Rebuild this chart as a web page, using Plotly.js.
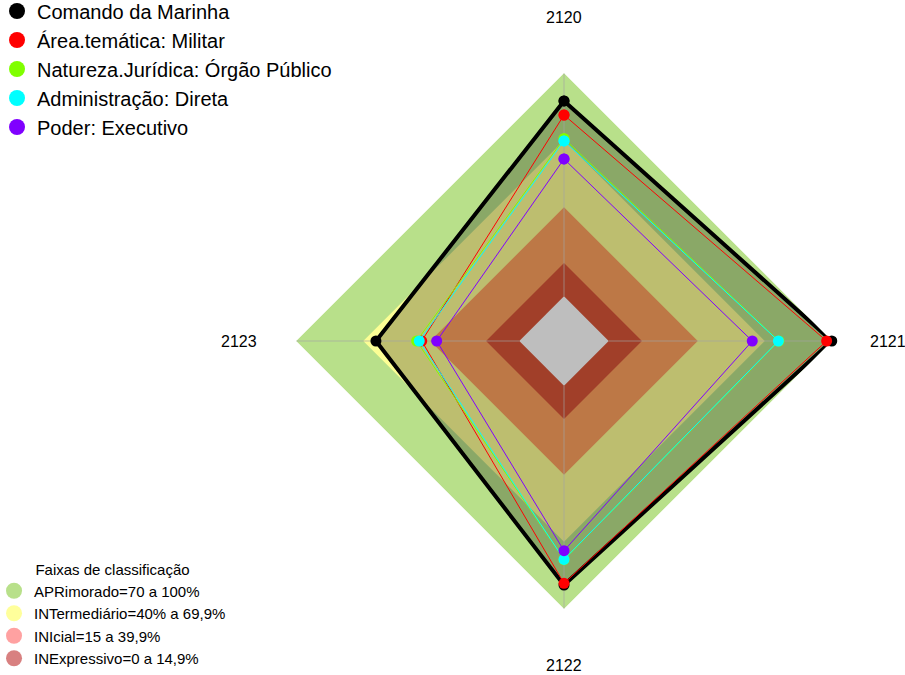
<!DOCTYPE html>
<html>
<head>
<meta charset="utf-8">
<script src="https://cdn.plot.ly/plotly-3.0.1.min.js"></script>
<style>html,body{margin:0;padding:0;background:#fff;}#chart{width:905px;height:675px;}</style>
</head>
<body>
<div id="chart"></div>
<script>
// ---------- data ----------
const categories = ['2120', '2121', '2122', '2123'];

const seriesNames = [
  'Comando da Marinha',
  'Área.temática: Militar',
  'Natureza.Jurídica: Órgão Público',
  'Administração: Direta',
  'Poder: Executivo'
];
const comandoMarinha   = [87.5, 99.9, 89.3, 64.2];
const areaMilitar      = [81.2, 97.6, 88.5, 43.7];
const naturezaOrgao    = [70.6, 76.2, 77.9, 46.0];
const administracaoDir = [69.6, 76.0, 77.8, 44.8];
const poderExecutivo   = [61.5, 64.3, 73.9, 37.0];

const bandNames  = ['APRimorado=70 a 100%', 'INTermediário=40% a 69,9%', 'INIcial=15 a 39,9%', 'INExpressivo=0 a 14,9%'];
const bandValues = [100, 69.9, 39.9, 14.9];
const scaleMin = 0, scaleMax = 100;
const legendTitle = 'Faixas de classificação';

// ---------- styles ----------
const seriesColors = ['#000000', '#ff0000', '#80ff00', '#00ffff', '#8000ff'];
const seriesWidths = [4, 1, 1, 1, 1];
const bandColors = ['rgba(126,199,42,0.55)', 'rgba(255,255,150,0.95)', 'rgba(255,0,0,0.37)', 'rgba(184,23,23,0.55)'];
const FONT = 'Liberation Sans, Arial, sans-serif';
const W = 905, H = 675;
const CX = 564, CY = 341, R = 268;
// category label anchor positions (pixels) : [x, y, xanchor]
const labelPos = [[CX, 18, 'center'], [868, CY, 'left'], [CX, 665, 'center'], [259, CY, 'right']];

function closed(arr) { return arr.concat([arr[0]]); }
const thetaClosed = closed(categories);

const traces = [];

// classification bands
bandValues.forEach((v, i) => {
  traces.push({
    type: 'scatterpolar', mode: 'none', fill: 'toself',
    r: closed(categories.map(() => v)), theta: thetaClosed,
    fillcolor: bandColors[i], showlegend: false, hoverinfo: 'skip'
  });
});

const allSeries = [comandoMarinha, areaMilitar, naturezaOrgao, administracaoDir, poderExecutivo];

// translucent fill of the first series
traces.push({
  type: 'scatterpolar', mode: 'none', fill: 'toself',
  r: closed(comandoMarinha), theta: thetaClosed,
  fillcolor: 'rgba(0,0,0,0.25)', showlegend: false, hoverinfo: 'skip'
});

// centre (below scale minimum)
traces.push({
  type: 'scatterpolar', mode: 'none', fill: 'toself',
  r: closed(categories.map(() => scaleMin)), theta: thetaClosed,
  fillcolor: '#bebebe', showlegend: false, hoverinfo: 'skip'
});

// spokes
const spokeR = [], spokeT = [];
categories.forEach(c => { spokeR.push(scaleMin, scaleMax, null); spokeT.push(c, c, null); });
traces.push({
  type: 'scatterpolar', mode: 'lines', r: spokeR, theta: spokeT,
  line: {color: 'rgba(165,165,165,0.65)', width: 1}, showlegend: false, hoverinfo: 'skip'
});

// series
allSeries.forEach((vals, i) => {
  traces.push({
    type: 'scatterpolar', mode: 'lines+markers', name: seriesNames[i],
    r: closed(vals), theta: thetaClosed,
    line: {color: seriesColors[i], width: seriesWidths[i]},
    marker: {color: seriesColors[i], size: 11},
    showlegend: false
  });
});

// legend entries (series)
seriesNames.forEach((n, i) => {
  traces.push({
    type: 'scatterpolar', mode: 'markers', name: n, r: [null], theta: [null],
    marker: {color: seriesColors[i], size: 16}, legend: 'legend', showlegend: true, hoverinfo: 'skip'
  });
});
// legend entries (bands)
bandNames.forEach((n, i) => {
  traces.push({
    type: 'scatterpolar', mode: 'markers', name: n, r: [null], theta: [null],
    marker: {color: bandColors[i], size: 16}, legend: 'legend2', showlegend: true, hoverinfo: 'skip'
  });
});

const annotations = categories.map((c, i) => ({
  text: c, showarrow: false,
  xref: 'paper', yref: 'paper',
  x: labelPos[i][0] / W, y: 1 - labelPos[i][1] / H,
  xanchor: labelPos[i][2], yanchor: 'middle',
  font: {family: FONT, size: 16, color: '#000000'}
}));

const layout = {
  width: W, height: H,
  margin: {l: 0, r: 0, t: 0, b: 0, autoexpand: false},
  paper_bgcolor: '#ffffff',
  font: {family: FONT, color: '#000000'},
  showlegend: true,
  annotations: annotations,
  polar: {
    domain: {x: [(CX - R) / W, (CX + R) / W], y: [(H - CY - R) / H, (H - CY + R) / H]},
    bgcolor: 'rgba(0,0,0,0)',
    gridshape: 'linear',
    radialaxis: {range: [-20, 100], visible: false},
    angularaxis: {
      type: 'category', categoryarray: categories,
      rotation: 90, direction: 'clockwise',
      showgrid: false, showline: false, ticks: '', showticklabels: false
    }
  },
  legend: {
    x: -0.0033, y: 1.0126, xanchor: 'left', yanchor: 'top',
    bgcolor: 'rgba(0,0,0,0)', font: {family: FONT, size: 20, color: '#000000'},
    itemclick: false
  },
  legend2: {
    x: -0.0066, y: 0.0, xanchor: 'left', yanchor: 'bottom',
    bgcolor: 'rgba(0,0,0,0)', font: {family: FONT, size: 15, color: '#000000'},
    title: {text: legendTitle, side: 'top center', font: {family: FONT, size: 15, color: '#000000'}},
    itemclick: false
  }
};

Plotly.newPlot('chart', traces, layout, {displayModeBar: false, staticPlot: true});
</script>
</body>
</html>
